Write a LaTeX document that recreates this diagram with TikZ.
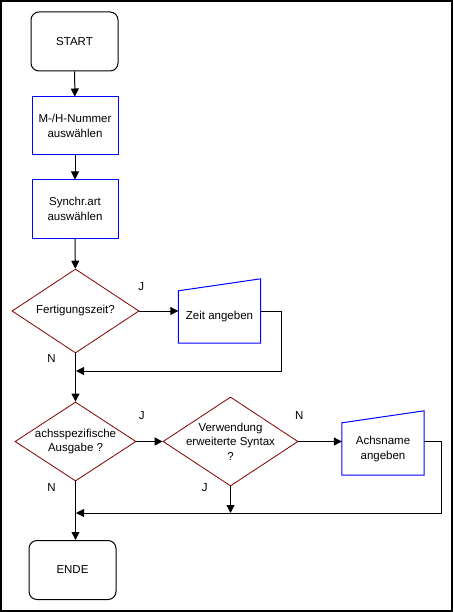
\documentclass[tikz,border=0pt]{standalone}
\usepackage{fontspec}
\setmainfont{Liberation Sans}
\usetikzlibrary{shapes.geometric,arrows.meta}
\definecolor{decred}{RGB}{128,0,0}

\begin{document}
\begin{tikzpicture}[x=1pt,y=-1pt,
  every node/.style={font=\fontsize{11.5}{14.5}\selectfont},
  term/.style={shape=rectangle, rounded corners=8pt, draw, line width=1pt, minimum width=87pt, minimum height=59pt, inner sep=0pt},
  proc/.style={shape=rectangle, draw=blue, line width=1pt, minimum width=86pt, minimum height=58pt, align=center, inner sep=0pt},
  dec/.style={shape=diamond, draw=decred, line width=0.8pt, aspect=1.5, inner sep=-8pt, align=center},
  inp/.style={shape=rectangle, minimum width=82pt, minimum height=52pt, align=center, inner sep=0pt},
  arr/.style={-{Triangle[length=8pt,width=8pt]}, line width=1pt}]
%%% frame
\draw[line width=2pt] (1,1) rectangle (452,611);

%%% nodes
\node[term]  (start) at (74.5,41.5) {START};
\node[proc]  (mh) at (75,126) {M-/H-Nummer\\auswählen};
\node[proc]  (sync) at (75,209) {Synchr.art\\auswählen};
\node[dec, minimum width=127pt, minimum height=84pt]  (fz) at (75.5,311) {Fertigungszeit?};
\node[inp]  (zeit) at (219.5,317) {Zeit angeben};
\node[dec, minimum width=121pt, minimum height=79pt]  (achs) at (75.5,441.5) {achsspezifische\\Ausgabe ?};
\node[dec, minimum width=135pt, minimum height=89pt]  (syn) at (230.5,441.5) {Verwendung\\erweiterte Syntax\\?};
\node[inp]  (aname) at (383,449) {Achsname\\angeben};
\node[term]  (ende) at (72.5,570) {ENDE};

\draw[draw=blue, line width=1pt] (zeit.north west)--(zeit.south west)--(zeit.south east)--([yshift=12pt]zeit.north east)--cycle;
\draw[draw=blue, line width=1pt] (aname.north west)--(aname.south west)--(aname.south east)--([yshift=12pt]aname.north east)--cycle;

\coordinate (j1) at (76,371);
\coordinate (j2) at (76,513);

%%% connectors
\draw[arr](start)--(mh);
\draw[arr](mh)--(sync);
\draw[arr](sync)--(fz);
\draw[arr](fz)--(fz -| zeit.west)node[pos=0.05,above=17pt] {J};
\draw[arr](fz -| zeit.east)--++(21,0)|-(j1);
\draw[arr](fz)--(achs)node[pos=0.1,left=16pt] {N};
\draw[arr](achs)--(syn)node[pos=0.2,above=18pt] {J};
\draw[arr](syn)--(syn -| aname.west)node[pos=0.02,above=18pt] {N};
\draw[arr](syn -| aname.east)--++(17,0)|-(j2);
\draw[arr](syn)--(syn |- j2)node[pos=0.05,left=19pt] {J};
\draw[arr](achs)--(achs |- ende.north)node[pos=0.1,left=16pt] {N};

\end{tikzpicture}
\end{document}
